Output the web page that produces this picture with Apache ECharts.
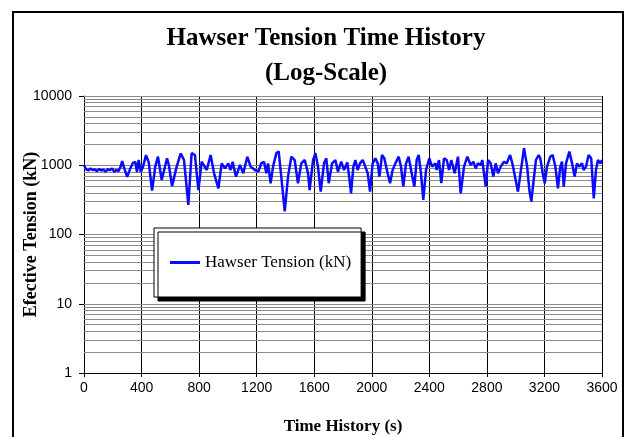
<!DOCTYPE html>
<html>
<head>
<meta charset="utf-8">
<script src="https://cdn.jsdelivr.net/npm/echarts@6/dist/echarts.min.js"></script>
<style>html,body{margin:0;padding:0;background:#fff}#c{width:633px;height:437px}</style>
</head>
<body>
<div id="c"></div>
<script>
var timeSec = [0,15,30,45,60,75,90,105,120,135,150,165,180,195,210,225,240,255,265,280,300,320,340,357,368,380,395,410,431,450,473,495,514,540,560,577,590,612,644,672,695,725,748,771,795,818,829,853,880,904,934,957,980,1003,1019,1033,1056,1084,1107,1135,1158,1188,1212,1232,1251,1267,1279,1297,1314,1337,1353,1371,1395,1418,1441,1464,1487,1510,1534,1557,1568,1592,1608,1626,1645,1668,1684,1701,1724,1747,1765,1788,1807,1830,1840,1856,1872,1886,1902,1918,1937,1955,1972,1988,2006,2025,2041,2053,2071,2087,2110,2127,2145,2164,2187,2203,2219,2238,2256,2273,2296,2312,2326,2342,2358,2377,2400,2419,2442,2451,2467,2483,2502,2521,2537,2553,2576,2599,2618,2641,2664,2687,2706,2722,2738,2757,2768,2792,2808,2826,2845,2861,2877,2896,2919,2938,2961,2977,3000,3016,3040,3058,3080,3095,3109,3125,3141,3160,3171,3188,3202,3218,3241,3257,3276,3294,3310,3322,3334,3350,3373,3392,3410,3426,3442,3461,3472,3489,3507,3525,3543,3558,3572,3588,3600];
var tensionKN = [1000,880,840,900,850,870,820,880,840,860,810,870,850,900,800,860,820,960,1150,900,680,880,1080,1120,800,1190,800,950,1400,1100,430,950,1330,612,900,1260,1000,500,955,1480,1190,267,1500,1405,439,1125,1190,853,1405,765,465,1065,900,1065,853,1125,685,1008,765,1330,955,853,808,1065,1125,765,1065,550,955,1500,1580,685,215,685,1330,1190,550,1065,1190,765,439,1190,1500,955,415,1065,1260,550,1065,1190,808,1125,853,1100,765,393,955,1190,853,1065,1190,955,765,415,1065,1260,1065,685,1405,1260,765,550,853,1065,1330,955,490,1065,1330,853,490,1190,1405,765,315,853,1260,955,1065,853,1190,550,1260,1190,853,1190,765,1330,393,955,1330,1008,1125,900,1065,1008,1190,490,1190,1065,685,1065,765,955,1125,1065,1405,1065,612,415,955,1760,955,439,298,612,1190,1405,1260,765,550,955,1330,1405,955,465,955,1125,490,1065,1580,1065,685,1065,955,1065,853,955,1405,1260,332,853,1190,1065,1190];
var xTicks = [0,400,800,1200,1600,2000,2400,2800,3200,3600];
var yTickLabels = ['1','10','100','1000','10000'];
var decades = [1,10,100,1000];
var multipliers = [1,2,3,4,5,6,7,8,9];

var seriesData = timeSec.map(function(t,i){return [t, tensionKN[i]];});
var gridVals = [];
decades.forEach(function(d){multipliers.forEach(function(m){ if(d*m>1) gridVals.push({yAxis:d*m}); });});
gridVals.push({yAxis:10000});

var chart = echarts.init(document.getElementById('c'), null, {renderer:'canvas'});
chart.setOption({
  animation:false,
  backgroundColor:'#fff',
  title:{
    text:'Hawser Tension Time History\n(Log-Scale)',
    left:321, top:16, textAlign:'center',
    textStyle:{fontFamily:'Liberation Serif', fontWeight:'bold', fontSize:25, lineHeight:35, color:'#000'}
  },
  graphic:[{type:'rect', shape:{x:13,y:12,width:610,height:440}, style:{fill:'none', stroke:'#000', lineWidth:2}, silent:true}],
  grid:{left:84, right:31, top:96, bottom:64, containLabel:false, outerBoundsMode:'none'},
  legend:{
    left:154, top:228, orient:'vertical',
    data:[{name:'Hawser Tension (kN)', icon:'rect'}],
    itemWidth:30, itemHeight:3, itemGap:0,
    padding:[26,10,26,16],
    backgroundColor:'#fff', borderColor:'#000', borderWidth:1,
    shadowColor:'#000', shadowBlur:0, shadowOffsetX:4, shadowOffsetY:4,
    textStyle:{fontFamily:'Liberation Serif', fontSize:17, color:'#000'}
  },
  xAxis:{
    type:'value', min:0, max:3600, interval:400,
    name:'Time History (s)', nameLocation:'middle', nameGap:45, nameMoveOverlap:false,
    nameTextStyle:{fontFamily:'Liberation Serif', fontWeight:'bold', fontSize:17, color:'#000'},
    axisLine:{show:true, onZero:false, lineStyle:{color:'#000', width:1}},
    axisTick:{show:true, length:4, lineStyle:{color:'#000'}},
    axisLabel:{fontFamily:'Liberation Sans', fontSize:14, color:'#000', margin:8,
      formatter:function(v){ var i = xTicks.indexOf(Math.round(v)); return i >= 0 ? String(xTicks[i]) : ''; }},
    splitLine:{show:true, lineStyle:{color:'#000', width:1}}
  },
  yAxis:{
    type:'log', logBase:10, min:1, max:10000,
    name:'Efective Tension (kN)', nameLocation:'middle', nameGap:44, nameRotate:90, nameMoveOverlap:false,
    nameTextStyle:{fontFamily:'Liberation Serif', fontWeight:'bold', fontSize:18, color:'#000'},
    axisLine:{show:true, lineStyle:{color:'#000', width:1}},
    axisTick:{show:true, length:5, lineStyle:{color:'#000'}},
    axisLabel:{fontFamily:'Liberation Sans', fontSize:14, color:'#000', margin:12,
      formatter:function(v){ var i = Math.round(Math.log10(v)); return yTickLabels[i] || ''; }},
    splitLine:{show:false}
  },
  series:[
    {name:'grid', type:'line', data:[], z:1, silent:true,
     markLine:{silent:true, symbol:['none','none'], label:{show:false}, z:1,
       lineStyle:{color:'#8c8c8c', width:1, type:'solid'}, emphasis:{disabled:true}, data:gridVals}},
    {name:'Hawser Tension (kN)', type:'line', data:seriesData, showSymbol:false, symbol:'none', z:3,
     lineStyle:{color:'#0a0aff', width:2.5}, itemStyle:{color:'#0a0aff'}}
  ]
});
</script>
</body>
</html>
